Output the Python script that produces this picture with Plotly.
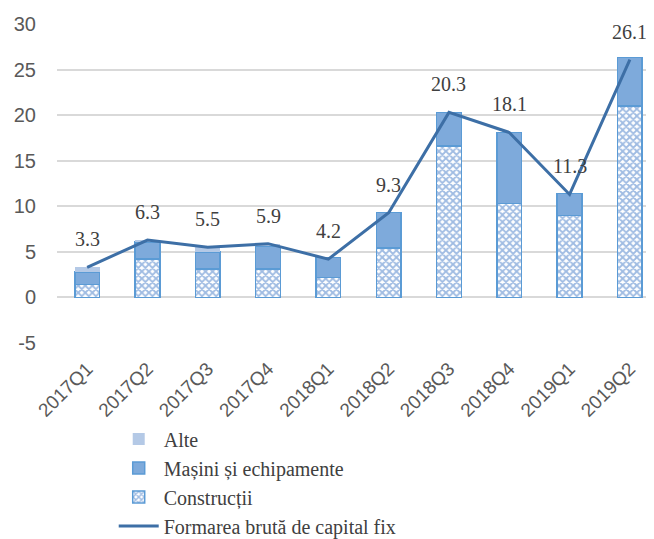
import plotly.graph_objects as go

# Data
quarters = ['2017Q1', '2017Q2', '2017Q3', '2017Q4', '2018Q1',
            '2018Q2', '2018Q3', '2018Q4', '2019Q1', '2019Q2']
constructii = [1.4, 4.2, 3.1, 3.1, 2.2, 5.4, 16.6, 10.3, 9.0, 21.0]
masini = [1.4, 1.9, 1.9, 2.5, 2.2, 3.9, 3.7, 7.8, 2.4, 5.3]
alte = [0.5, 0.2, 0.5, 0.3, 0.0, 0.0, 0.0, 0.0, 0.0, 0.0]
fbcf = [3.3, 6.3, 5.5, 5.9, 4.2, 9.3, 20.3, 18.1, 11.3, 26.1]

y_ticks = [-5, 0, 5, 10, 15, 20, 25, 30]
y_labels = ['-5', '0', '5', '10', '15', '20', '25', '30']

serif = 'Liberation Serif, Times New Roman, serif'
sans = 'Liberation Sans, Arial, sans-serif'
edge = '#5B9BD5'

fig = go.Figure()

fig.add_trace(go.Bar(
    name='Construcții', x=quarters, y=constructii, legendrank=3,
    marker=dict(color='white', line=dict(color=edge, width=1.5),
                pattern=dict(shape='x', fgcolor='#3F78C6', bgcolor='white',
                             size=5, solidity=0.6)),
    width=0.41,
))
fig.add_trace(go.Bar(
    name='Mașini și echipamente', x=quarters, y=masini, legendrank=2,
    marker=dict(color='#7EAADB', line=dict(color=edge, width=1.5)),
    width=0.41,
))
fig.add_trace(go.Bar(
    name='Alte', x=quarters, y=alte, legendrank=1,
    marker=dict(color='#B4C9E6', line=dict(width=0)),
    width=0.41,
))
fig.add_trace(go.Scatter(
    name='Formarea brută de capital fix', x=quarters, y=fbcf, legendrank=4,
    mode='lines', line=dict(color='#3D6FA6', width=3),
))

# Value labels above the line points
for q, v in zip(quarters, fbcf):
    fig.add_annotation(x=q, y=v, text=f'{v:.1f}', showarrow=False, yshift=28,
                       font=dict(family=serif, size=20, color='#404040'))

# page body adds an 8px margin, so the figure is 8px smaller on each side
fig.update_layout(
    width=646, height=531,
    barmode='stack',
    plot_bgcolor='white', paper_bgcolor='white',
    margin=dict(l=49, r=0, t=16, b=196),
    showlegend=True,
    legend=dict(
        x=0.095, y=0.225, xanchor='left', yanchor='top', yref='container',
        traceorder='normal', orientation='v',
        font=dict(family=serif, size=20, color='#404040'),
        itemwidth=40, tracegroupgap=0,
    ),
    xaxis=dict(
        range=[-0.5, 9.4], tickangle=-45, showgrid=False, zeroline=False,
        showline=False, ticks='', automargin=False,
        tickfont=dict(family=sans, size=19, color='#595959'),
        ticklabelstandoff=10,
    ),
    yaxis=dict(
        range=[-5, 30], tickvals=y_ticks, ticktext=y_labels,
        showgrid=True, gridcolor='#D9D9D9',
        gridwidth=1.5, zeroline=True, zerolinecolor='#D9D9D9',
        zerolinewidth=1.5, showline=False, ticks='', automargin=False,
        tickfont=dict(family=sans, size=20, color='#595959'),
        ticklabelstandoff=20,
    ),
)

fig.write_html('out.html')
